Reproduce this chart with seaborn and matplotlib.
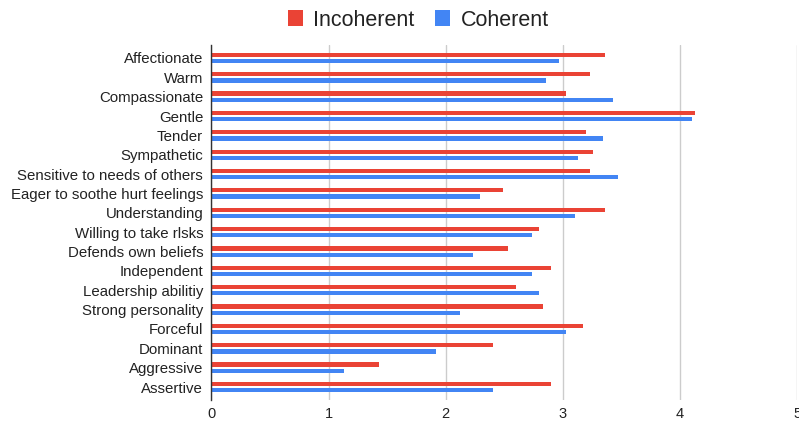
import numpy as np
import pandas as pd
import matplotlib
matplotlib.use('Agg')
import matplotlib.pyplot as plt
import seaborn as sns

traits = ['Affectionate', 'Warm', 'Compassionate', 'Gentle', 'Tender', 'Sympathetic',
          'Sensitive to needs of others', 'Eager to soothe hurt feelings', 'Understanding',
          'Willing to take rlsks', 'Defends own beliefs', 'Independent', 'Leadership abilitiy',
          'Strong personality', 'Forceful', 'Dominant', 'Aggressive', 'Assertive']
incoherent = [3.36, 3.23, 3.03, 4.13, 3.20, 3.26, 3.23, 2.49, 3.36, 2.80,
              2.53, 2.90, 2.60, 2.83, 3.17, 2.40, 1.43, 2.90]
coherent = [2.97, 2.86, 3.43, 4.10, 3.34, 3.13, 3.47, 2.29, 3.10, 2.74,
            2.23, 2.74, 2.80, 2.12, 3.03, 1.92, 1.13, 2.40]
series = ['Incoherent', 'Coherent']
colors = ['#EA4335', '#4285F4']
xticks = [0, 1, 2, 3, 4, 5]

df = pd.DataFrame({
    'trait': traits * 2,
    'value': incoherent + coherent,
    'group': ['Incoherent'] * len(traits) + ['Coherent'] * len(traits),
})

sns.set_style('white')
plt.rcParams['font.family'] = ['Liberation Sans', 'DejaVu Sans']

fig = plt.figure(figsize=(7.99, 4.26), dpi=100)
# plot area spans roughly x 211..797, y 45..400 px
ax = fig.add_axes([0.2647, 1 - 400 / 426, 0.733, 355 / 426])

sns.barplot(data=df, x='value', y='trait', hue='group', hue_order=series,
            palette=colors, orient='h', width=0.64, gap=0.32, ax=ax,
            saturation=1, linewidth=0, errorbar=None)

pad = 0.17
ax.set_xlim(0, 5)
ax.set_ylim(len(traits) - 0.5 + pad, -0.5 - pad)
ax.set_xticks(xticks)
ax.set_xticklabels([str(t) for t in xticks], fontsize=10.5, color='#222222')
ax.tick_params(axis='y', labelsize=10.8, labelcolor='#222222', length=0, pad=6)
ax.tick_params(axis='x', length=0, pad=5)
ax.set_xlabel('')
ax.set_ylabel('')
ax.grid(axis='x', color='#cccccc', linewidth=1)
ax.set_axisbelow(True)
for s in ['top', 'right', 'bottom']:
    ax.spines[s].set_visible(False)
ax.spines['left'].set_color('#333333')
ax.spines['left'].set_linewidth(1)

handles, labels = ax.get_legend_handles_labels()
ax.get_legend().remove()
fig.legend(handles, labels, loc='center', bbox_to_anchor=(0.5236, 0.953), ncol=2,
           frameon=False, fontsize=15.5, handlelength=0.7, handleheight=0.7,
           handletextpad=0.47, columnspacing=0.96, labelcolor='#222222')

fig.savefig('out.png', dpi=100)
